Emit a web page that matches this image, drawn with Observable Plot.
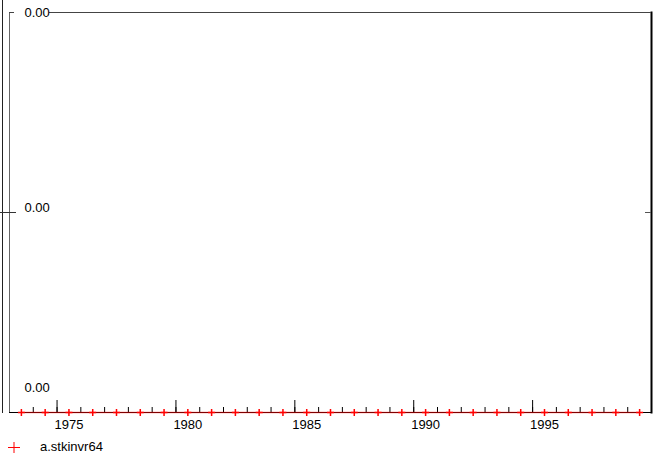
<!DOCTYPE html>
<html><head><meta charset="utf-8">
<script src="https://cdn.jsdelivr.net/npm/d3@7"></script>
<script src="https://cdn.jsdelivr.net/npm/@observablehq/plot@0.6"></script>
<style>
html,body{margin:0;padding:0;background:#fff;}
body{font-family:"Liberation Sans",Arial,sans-serif;width:659px;height:457px;overflow:hidden;}
#legend{position:relative;height:20px;width:659px;}
</style></head><body>
<div id="chart"></div>
<div id="legend"></div>
<script>
const seriesName = "a.stkinvr64";
const years = [1973,1974,1975,1976,1977,1978,1979,1980,1981,1982,1983,1984,1985,1986,1987,1988,1989,1990,1991,1992,1993,1994,1995,1996,1997,1998,1999];
const values = [0,0,0,0,0,0,0,0,0,0,0,0,0,0,0,0,0,0,0,0,0,0,0,0,0,0,0];
const xLabelYears = [1975,1980,1985,1990,1995];
const xDomain = [1972.5, 1999.5];
const majorTicks = [1974.5,1979.5,1984.5,1989.5,1994.5];
const minorTicks = [1973.5,1974.5,1975.5,1976.5,1977.5,1978.5,1979.5,1980.5,1981.5,1982.5,1983.5,1984.5,1985.5,1986.5,1987.5,1988.5,1989.5,1990.5,1991.5,1992.5,1993.5,1994.5,1995.5,1996.5,1997.5,1998.5];
const yTicks = [0, 0.001, 0.002];
const yFmt = d3.format(".2f");

const data = years.map((y,i)=>({year:y, value:values[i]}));

const plusSym = {draw(ctx, size){const r=Math.sqrt(size/Math.PI);ctx.moveTo(-r,0);ctx.lineTo(r,0);ctx.moveTo(0,-r);ctx.lineTo(0,r);}};

const chart = Plot.plot({
  width:659, height:437,
  marginLeft:9, marginRight:8, marginTop:12, marginBottom:25,
  x:{domain:xDomain, axis:null},
  y:{domain:[yTicks[0], yTicks[2]], axis:null},
  style:{fontFamily:"'Liberation Sans', Arial, sans-serif", fontSize:"13px", background:"white", color:"black", overflow:"visible"},
  marks:[
    Plot.frame({anchor:"left", insetLeft:-7, insetTop:-12, stroke:"#222"}),
    Plot.frame({anchor:"left", stroke:"#666"}),
    Plot.frame({anchor:"right", stroke:"black", strokeWidth:2}),
    Plot.ruleY([yTicks[2]], {insetLeft:40, stroke:"#444"}),
    Plot.ruleY([yTicks[2]], {insetRight:637, stroke:"#444"}),
    Plot.tickY([yTicks[1]], {insetLeft:-9, insetRight:635, stroke:"#333"}),
    Plot.tickY([yTicks[1]], {insetLeft:636, stroke:"#555"}),
    Plot.tickX(minorTicks, {x:d=>d, insetTop:395, stroke:"black"}),
    Plot.tickX(majorTicks, {x:d=>d, insetTop:388, stroke:"black"}),
    Plot.ruleY([yTicks[0]], {stroke:"black"}),
    Plot.lineY(data, {x:"year", y:"value", stroke:"red", strokeOpacity:0.5}),
    Plot.dot(data, {x:"year", y:"value", symbol:plusSym, r:3.5, stroke:"red", fill:"none"}),
    Plot.text(xLabelYears, {x:d=>d, frameAnchor:"bottom", dy:16, text:d=>String(d), fill:"black"}),
    Plot.text([yTicks[2]], {y:d=>d, frameAnchor:"left", dx:15, textAnchor:"start", text:yFmt, fill:"black"}),
    Plot.text([yTicks[1]], {y:d=>d, frameAnchor:"left", dx:15, dy:-5, textAnchor:"start", text:yFmt, fill:"black"}),
    Plot.text([yTicks[0]], {y:d=>d, frameAnchor:"left", dx:15, dy:-25, textAnchor:"start", text:yFmt, fill:"black"})
  ]
});
document.getElementById("chart").appendChild(chart);

const leg = document.getElementById("legend");
leg.innerHTML = `<svg width="30" height="20" style="position:absolute;left:0;top:0"><path d="M8,10.5H20M14,5V16" stroke="red" fill="none"/></svg><span style="position:absolute;left:40px;top:2px;font-size:13px;color:#000;">${seriesName}</span>`;
</script>
</body></html>
